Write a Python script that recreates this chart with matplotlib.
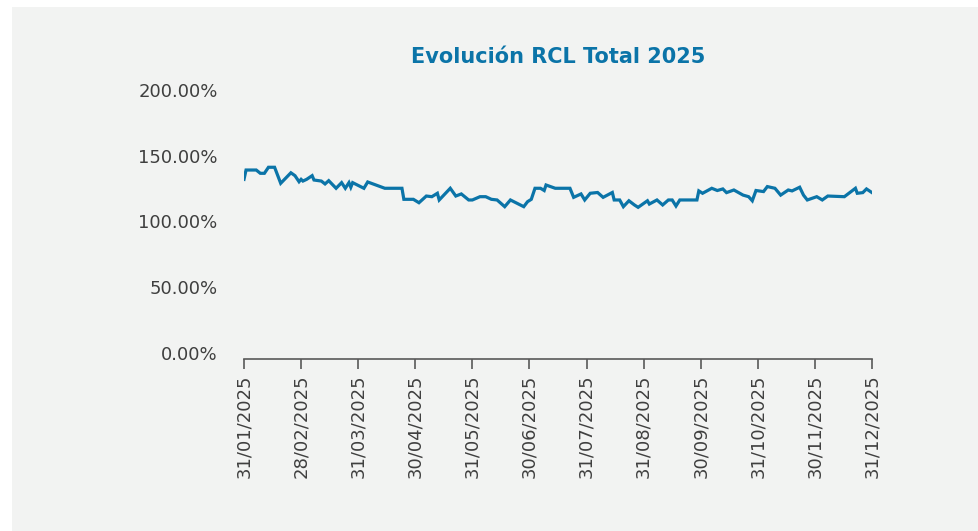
import numpy as np
from matplotlib import pyplot as plt
from matplotlib.patches import Rectangle
import matplotlib.transforms as mtransforms

# fechas (dd) y ratio RCL en %
dates = ['2025-01-31', '2025-02-01', '2025-02-06', '2025-02-08', '2025-02-10',
         '2025-02-12', '2025-02-15', '2025-02-18', '2025-02-23', '2025-02-25',
         '2025-02-27', '2025-02-28', '2025-03-01', '2025-03-03', '2025-03-06',
         '2025-03-07', '2025-03-11', '2025-03-13', '2025-03-15', '2025-03-19',
         '2025-03-22', '2025-03-24', '2025-03-26', '2025-03-27', '2025-03-28',
         '2025-04-03', '2025-04-05', '2025-04-14', '2025-04-23', '2025-04-24',
         '2025-04-29', '2025-05-02', '2025-05-06', '2025-05-09', '2025-05-12',
         '2025-05-13', '2025-05-19', '2025-05-22', '2025-05-25', '2025-05-29',
         '2025-05-31', '2025-06-04', '2025-06-07', '2025-06-10', '2025-06-13',
         '2025-06-17', '2025-06-20', '2025-06-27', '2025-06-29', '2025-07-01',
         '2025-07-03', '2025-07-06', '2025-07-08', '2025-07-09', '2025-07-14',
         '2025-07-22', '2025-07-24', '2025-07-28', '2025-07-30', '2025-08-02',
         '2025-08-06', '2025-08-09', '2025-08-14', '2025-08-15', '2025-08-18',
         '2025-08-20', '2025-08-23', '2025-08-26', '2025-08-28', '2025-09-02',
         '2025-09-03', '2025-09-07', '2025-09-10', '2025-09-13', '2025-09-15',
         '2025-09-17', '2025-09-19', '2025-09-28', '2025-09-29', '2025-10-01',
         '2025-10-06', '2025-10-09', '2025-10-12', '2025-10-14', '2025-10-18',
         '2025-10-23', '2025-10-26', '2025-10-28', '2025-10-30', '2025-11-03',
         '2025-11-05', '2025-11-09', '2025-11-12', '2025-11-16', '2025-11-18',
         '2025-11-22', '2025-11-24', '2025-11-26', '2025-12-01', '2025-12-04',
         '2025-12-07', '2025-12-16', '2025-12-22', '2025-12-23', '2025-12-26',
         '2025-12-28', '2025-12-31']

rcl = [137.0, 144.1, 144.1, 141.6, 141.6, 146.2, 146.2, 134.0, 142.0, 139.8,
       135.2, 137.0, 135.7, 137.0, 139.8, 136.5, 135.7, 133.5, 136.0, 130.2,
       134.5, 130.2, 134.5, 131.0, 134.5, 130.2, 135.0, 130.2, 130.2, 121.8,
       121.8, 119.2, 124.3, 123.8, 126.4, 121.3, 130.2, 124.3, 125.9, 121.3,
       121.3, 123.8, 123.8, 121.8, 121.3, 116.2, 121.3, 116.2, 120.0, 121.8,
       130.2, 130.2, 128.5, 132.7, 130.2, 130.2, 123.3, 125.9, 121.3, 126.4,
       127.0, 123.3, 127.0, 121.3, 121.3, 116.2, 120.7, 117.5, 115.7, 120.7,
       118.2, 121.3, 117.5, 121.3, 121.3, 116.7, 121.3, 121.3, 128.2, 126.4,
       130.2, 128.5, 129.7, 126.9, 128.9, 125.0, 123.8, 120.7, 128.5, 127.7,
       131.5, 130.2, 125.0, 128.9, 128.2, 131.0, 125.0, 121.3, 123.8, 121.3,
       124.3, 123.8, 130.2, 126.4, 126.9, 129.7, 126.9]

month_ends = ['2025-01-31', '2025-02-28', '2025-03-31', '2025-04-30',
              '2025-05-31', '2025-06-30', '2025-07-31', '2025-08-31',
              '2025-09-30', '2025-10-31', '2025-11-30', '2025-12-31']

y_ticks = [0, 50, 100, 150, 200]

BLUE = '#0B74A8'
GREY_TXT = '#3f3f3f'


def month_position(days):
    """eje de meses equiespaciados, como en el grafico original"""
    ends = np.array(month_ends, dtype='datetime64[D]').astype(float)
    d = np.array(days, dtype='datetime64[D]').astype(float)
    return np.interp(d, ends, np.arange(len(ends)))


def draw_plot():
    fig = plt.figure(figsize=(9.79, 5.31), dpi=100)
    fig.patch.set_facecolor('white')
    bg = Rectangle((12 / 979, 0), 1, 1 - 7 / 531,
                   transform=fig.transFigure,
                   facecolor='#f2f3f2', edgecolor='none', zorder=-10)
    fig.add_artist(bg)

    ax = fig.add_axes([244 / 979, 171.7 / 531, 628 / 979, 262.7 / 531])
    ax.set_facecolor('none')
    ax.set_zorder(5)

    x = month_position(dates)
    ax.plot(x, rcl, color=BLUE, linewidth=2.3, solid_joinstyle='miter')

    ax.set_xlim(0, len(month_ends) - 1)
    ax.set_ylim(0, 200)

    for side in ['top', 'right', 'left']:
        ax.spines[side].set_visible(False)
    ax.spines['bottom'].set_color('#595959')
    ax.spines['bottom'].set_linewidth(1.2)

    ax.set_xticks(month_position(month_ends))
    labels = [f'{d[8:10]}/{d[5:7]}/{d[0:4]}' for d in month_ends]
    ax.set_xticklabels(labels, rotation=90, fontsize=13, color=GREY_TXT)
    ax.tick_params(axis='x', length=7, width=1.2, color='#595959', pad=4)

    ax.set_yticks(y_ticks)
    ax.set_yticklabels([f'{v:.2f}%' for v in y_ticks], fontsize=13,
                       color=GREY_TXT)
    ax.tick_params(axis='y', length=0, pad=19)
    shift = mtransforms.ScaledTranslation(0, 6.6 / 100, fig.dpi_scale_trans)
    for lab in ax.get_yticklabels():
        lab.set_transform(lab.get_transform() + shift)

    fig.text(558 / 979, 1 - 57 / 531, 'Evolución RCL Total 2025',
             ha='center', va='center', fontsize=15, fontweight='bold',
             color=BLUE)

    plt.savefig('out.png', dpi=100)


draw_plot()
